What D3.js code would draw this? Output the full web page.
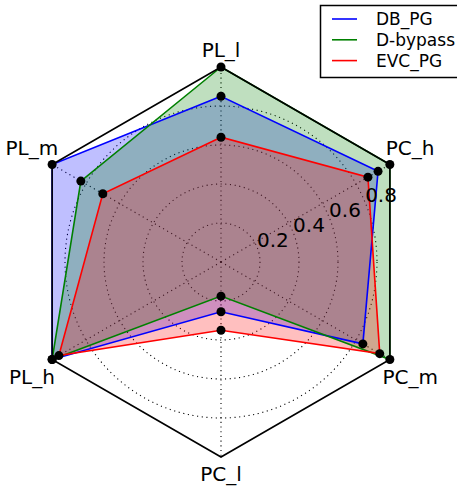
<!DOCTYPE html>
<html><head><meta charset="utf-8">
<script src="https://cdn.jsdelivr.net/npm/d3@7"></script>
<style>body{margin:0;background:#fff}svg{display:block}text{font-family:"DejaVu Sans",sans-serif}</style>
</head><body>
<svg id="c" width="457" height="488"></svg>
<script>
const categories = ["PL_l","PL_m","PL_h","PC_l","PC_m","PC_h"];
const seriesNames = ["DB_PG","D-bypass","EVC_PG"];
const dbPG    = [0.85, 1.00, 1.00, 0.255, 0.84, 0.93];
const dBypass = [1.00, 0.83, 1.00, 0.175, 1.00, 1.00];
const evcPG   = [0.64, 0.70, 0.96, 0.35, 0.94, 0.87];
const rTicks = [0.2, 0.4, 0.6, 0.8];
const colors = ["#0000ff","#008000","#ff0000"];

const svg = d3.select("#c");
const cx = 221, cy = 262, R = 195;
const r = d3.scaleLinear().domain([0,1]).range([0,R]);
// angle: category index -> radians (d3 convention: 0 at top, clockwise); data go counterclockwise
const ang = d3.scaleLinear().domain([0, categories.length]).range([0, -2*Math.PI]);
const g = svg.append("g").attr("transform", `translate(${cx},${cy})`);
const px = (i, v) => r(v) * Math.sin(ang(i));
const py = (i, v) => -r(v) * Math.cos(ang(i));

// grid circles
g.selectAll("circle.grid").data(rTicks).join("circle")
  .attr("r", d => r(d)).attr("fill","none").attr("stroke","#000")
  .attr("stroke-width",1.1).attr("stroke-dasharray","1.1,3.6");
// spokes
g.selectAll("line.spoke").data(categories).join("line")
  .attr("x1",0).attr("y1",0).attr("x2",(d,i)=>px(i,1)).attr("y2",(d,i)=>py(i,1))
  .attr("stroke","#000").attr("stroke-width",1.1).attr("stroke-dasharray","1.1,3.6");

const radial = d3.lineRadial().angle((d,i)=>ang(i)).radius(d=>r(d)).curve(d3.curveLinearClosed);
const allSeries = [dbPG, dBypass, evcPG];
allSeries.forEach((vals, k) => {
  g.append("path").attr("d", radial(vals)).attr("fill", colors[k]).attr("fill-opacity",0.25).attr("stroke","none");
});
allSeries.forEach((vals, k) => {
  g.append("path").attr("d", radial(vals)).attr("fill","none").attr("stroke", colors[k]).attr("stroke-width",1.6);
});

// frame hexagon
g.append("path").attr("d", radial(categories.map(()=>1))).attr("fill","none").attr("stroke","#000").attr("stroke-width",1.6);

allSeries.forEach((vals, k) => {
  g.selectAll(null).data(vals).join("circle")
    .attr("cx",(d,i)=>px(i,d)).attr("cy",(d,i)=>py(i,d)).attr("r",4.5).attr("fill","#000");
});

// radial tick labels at 22.5 deg
const la = 22.5*Math.PI/180;
g.selectAll("text.rt").data(rTicks).join("text")
  .attr("x", d => r(d)*Math.cos(la)).attr("y", d => -r(d)*Math.sin(la))
  .attr("font-size",20).attr("text-anchor","start").text(d => d3.format(".1f")(d));

// category labels
g.selectAll("text.cat").data(categories).join("text")
  .attr("x",(d,i)=>px(i,1.12))
  .attr("y",(d,i)=>{ const y = py(i,1); return y + Math.sign(y)*17; })
  .attr("dy","0.36em").attr("text-anchor","middle").attr("font-size",20).text(d=>d);

// legend
const lg = svg.append("g");
lg.append("rect").attr("x",320.5).attr("y",5.5).attr("width",150).attr("height",72)
  .attr("fill","#fff").attr("stroke","#000").attr("stroke-width",1.5);
seriesNames.forEach((n,k)=>{
  const y = 19 + k*20.8;
  lg.append("line").attr("x1",332).attr("x2",357).attr("y1",y).attr("y2",y).attr("stroke",colors[k]).attr("stroke-width",1.6);
  lg.append("text").attr("x",376).attr("y",y+6).attr("font-size",17).text(n);
});
</script>
</body></html>
